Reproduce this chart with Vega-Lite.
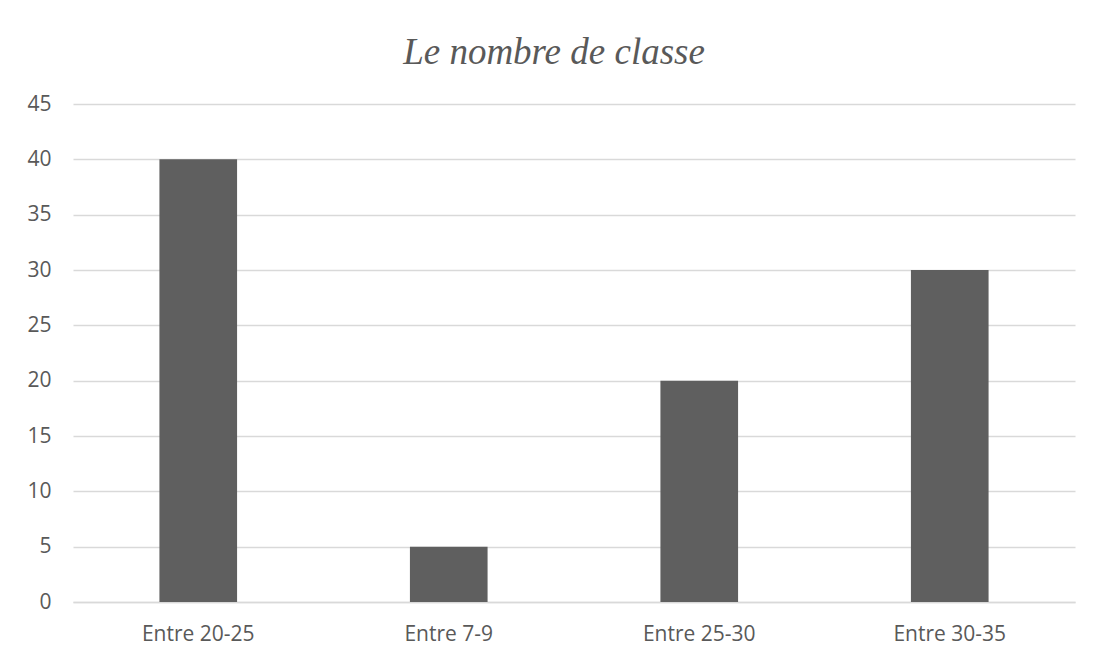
{
  "$schema": "https://vega.github.io/schema/vega-lite/v6.json",
  "autosize": {"type": "none"},
  "width": 1002,
  "height": 498,
  "padding": {"left": 73, "top": 104, "right": 19, "bottom": 57},
  "background": "white",
  "config": {"view": {"stroke": null}},
  "title": {
    "text": "Le nombre de classe",
    "font": "Liberation Serif",
    "fontStyle": "italic",
    "fontWeight": "normal",
    "fontSize": 37,
    "color": "#595959",
    "anchor": "middle",
    "dx": -20,
    "offset": 21
  },
  "data": {
    "values": [
      {"classe": "Entre 20-25", "nombre": 40},
      {"classe": "Entre 7-9", "nombre": 5},
      {"classe": "Entre 25-30", "nombre": 20},
      {"classe": "Entre 30-35", "nombre": 30}
    ]
  },
  "mark": {"type": "bar", "color": "#5f5f5f"},
  "encoding": {
    "x": {
      "field": "classe",
      "type": "nominal",
      "sort": null,
      "scale": {"paddingInner": 0.69, "paddingOuter": 0.345},
      "axis": {
        "title": null,
        "labelAngle": 0,
        "labelFont": "Open Sans",
        "labelFontSize": 21,
        "labelColor": "#595959",
        "labelPadding": 21,
        "ticks": false,
        "domainColor": "#d9d9d9",
        "domainWidth": 1.5
      }
    },
    "y": {
      "field": "nombre",
      "type": "quantitative",
      "scale": {"domain": [0, 45]},
      "axis": {
        "title": null,
        "values": [0, 5, 10, 15, 20, 25, 30, 35, 40, 45],
        "labelFont": "Open Sans",
        "labelFontSize": 21,
        "labelColor": "#595959",
        "labelPadding": 22,
        "ticks": false,
        "domain": false,
        "gridColor": "#d9d9d9",
        "gridWidth": 1.5
      }
    }
  }
}
